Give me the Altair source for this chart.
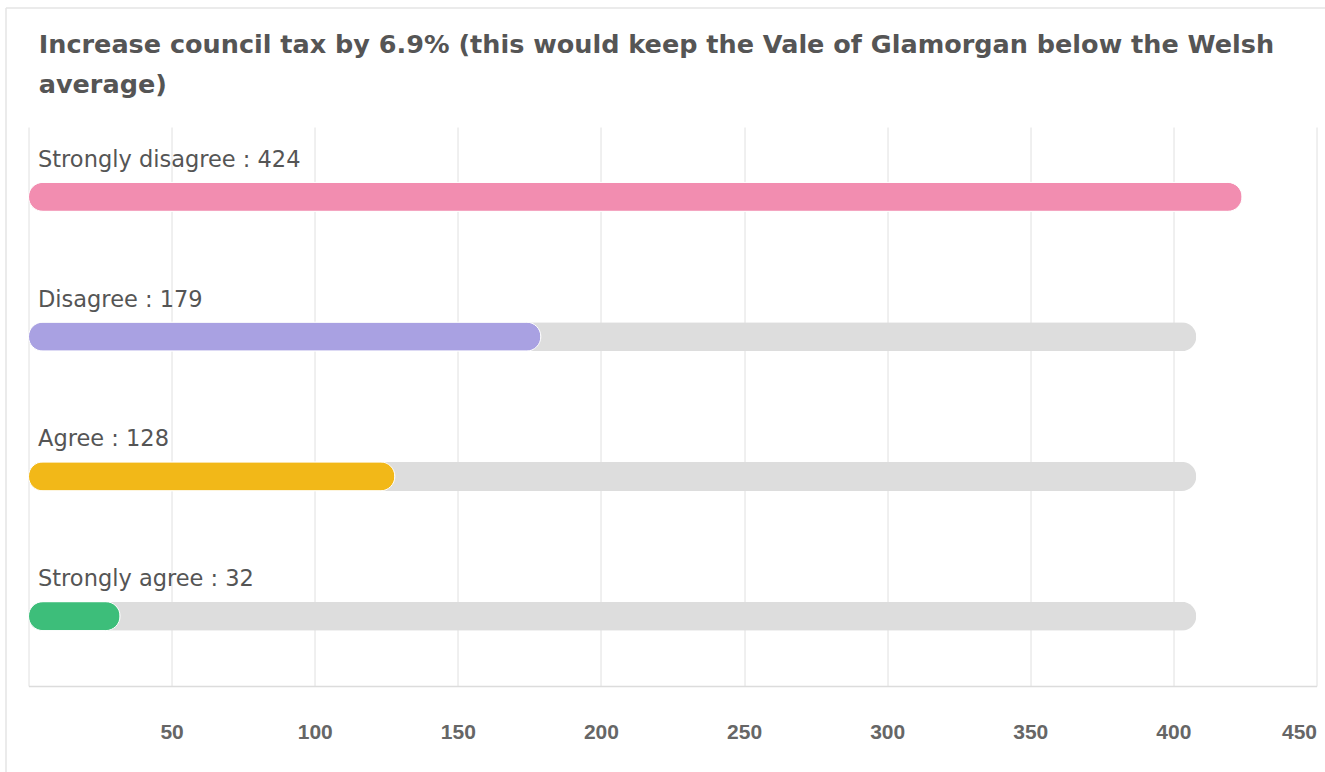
import altair as alt
import pandas as pd

title_lines = [
    "Increase council tax by 6.9% (this would keep the Vale of Glamorgan below the Welsh",
    "average)",
]
categories = ["Strongly disagree", "Disagree", "Agree", "Strongly agree"]
counts = [424, 179, 128, 32]
bar_colors = ["#F28DB0", "#A9A1E2", "#F2B818", "#3DBE7A"]
track_end = [408, 408, 408, 408]
tick_values = [0, 50, 100, 150, 200, 250, 300, 350, 400, 450]

df = pd.DataFrame({
    "category": categories,
    "count": counts,
    "color": bar_colors,
    "track": track_end,
})
df["label"] = df["category"] + " : " + df["count"].astype(str)

FONT = "DejaVu Sans"
TICK_FONT = "Liberation Sans"
W, H = 1288, 559

xscale = alt.Scale(domain=[0, 450], nice=False, zero=True)
xaxis = alt.Axis(
    values=tick_values,
    labelExpr="datum.value == 0 ? '' : datum.label",
    grid=True, gridColor="#E0E0E0", gridWidth=1,
    domain=True, domainColor="#DCDCDC", domainWidth=1.5,
    ticks=False, labelPadding=35,
    labelFont=TICK_FONT, labelFontSize=21, labelFontWeight="bold", labelColor="#666666",
    title=None,
)
y = alt.Y("category:N", sort=categories,
          scale=alt.Scale(paddingInner=0, paddingOuter=0), axis=None)

base = alt.Chart(df)

track = base.mark_bar(cornerRadius=14.5, color="#DDDDDD", size=29).encode(
    x=alt.X("track:Q", scale=xscale, axis=xaxis), y=y
)
bars = base.mark_bar(cornerRadius=14.5, size=29, stroke="white", strokeWidth=1).encode(
    x=alt.X("count:Q", scale=xscale, axis=xaxis),
    y=y,
    color=alt.Color("color:N", scale=None, legend=None),
)
labels = base.mark_text(
    align="left", baseline="alphabetic", dx=9.5, dy=-30,
    fontSize=22.5, color="#555555", font=FONT,
).encode(x=alt.value(0), y=y, text="label:N")

border_left = alt.Chart(pd.DataFrame({"k": [0]})).mark_rule(color="#E4E4E4", strokeWidth=1.5).encode(
    x=alt.value(-22.5), y=alt.value(-119), y2=alt.value(700)
)
border_top = alt.Chart(pd.DataFrame({"k": [0]})).mark_rule(color="#E4E4E4", strokeWidth=1.5).encode(
    x=alt.value(-22.5), x2=alt.value(1320), y=alt.value(-119)
)

chart = alt.layer(border_left, border_top, track, bars, labels).properties(
    width=W, height=H,
    background="white",
    title=alt.TitleParams(
        text=title_lines, anchor="start", font=FONT, fontSize=25.5, fontWeight="bold",
        color="#555555", lineHeight=40, dx=33.5, offset=-91,
    ),
    autosize=alt.AutoSizeParams(type="none"),
    padding={"left": 28.5, "top": 127, "right": 8.5, "bottom": 86},
).configure_view(strokeWidth=0, stroke=None)

chart.save("out.html", embed_options={"renderer": "svg", "actions": False})
